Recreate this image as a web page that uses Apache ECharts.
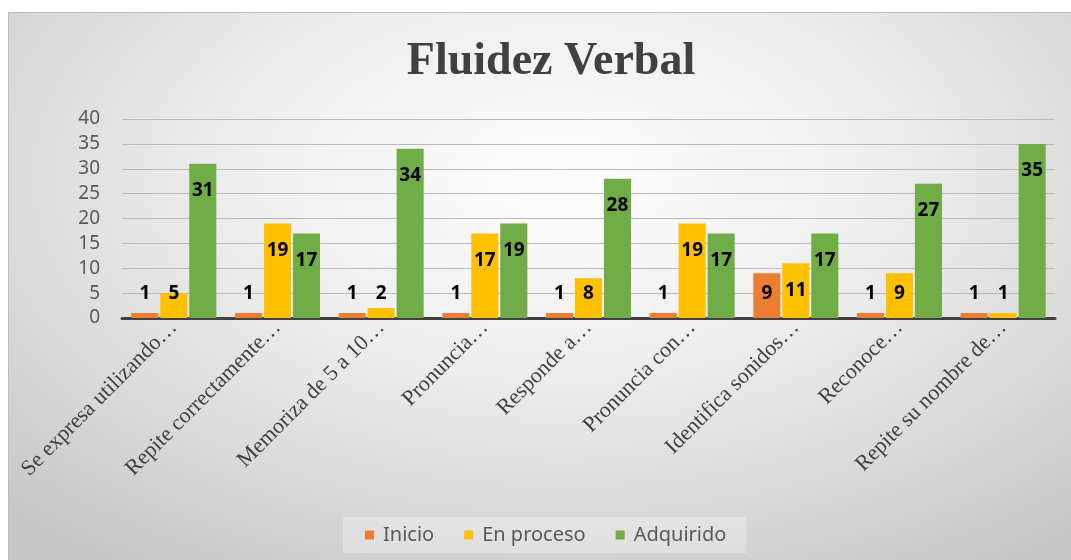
<!DOCTYPE html>
<html>
<head>
<meta charset="utf-8">
<script src="https://cdn.jsdelivr.net/npm/echarts@6/dist/echarts.min.js"></script>
<style>
html,body{margin:0;padding:0;background:#ffffff;}
#bg{position:absolute;left:8px;top:12px;width:1063px;height:548px;
background:radial-gradient(ellipse 75% 85% at 52% 30%, #fdfdfd 0%, #eeeeee 40%, #d8d8d8 75%, #c6c6c6 100%);
border-top:1px solid #bdbdbd;border-left:1px solid #bdbdbd;}
#chart{position:absolute;left:0;top:0;width:1071px;height:560px;}
</style>
</head>
<body>
<div id="bg"></div>
<div id="chart"></div>
<script>
const categories = [
  'Se expresa utilizando…',
  'Repite correctamente…',
  'Memoriza de 5 a 10…',
  'Pronuncia…',
  'Responde a…',
  'Pronuncia con…',
  'Identifica sonidos…',
  'Reconoce…',
  'Repite su nombre de…'
];
const inicio    = [1, 1, 1, 1, 1, 1, 9, 1, 1];
const enProceso = [5, 19, 2, 17, 8, 19, 11, 9, 1];
const adquirido = [31, 17, 34, 19, 28, 17, 17, 27, 35];
const yTicks = { min: 0, max: 40, interval: 5 };

const chart = echarts.init(document.getElementById('chart'), null, { renderer: 'canvas' });

const labelCfg = {
  show: true,
  position: 'inside',
  color: '#000000',
  fontFamily: 'Noto Sans',
  fontWeight: 'bold',
  fontSize: 19
};
function labelLayout(p) {
  const r = p.rect;
  return {
    x: r.x + r.width / 2,
    y: Math.min(r.y + 27, r.y + r.height - 24),
    align: 'center',
    verticalAlign: 'middle'
  };
}
function barSeries(name, data, color) {
  return {
    name: name,
    type: 'bar',
    data: data,
    barGap: '7%',
    barCategoryGap: '18%',
    itemStyle: { color: color },
    label: labelCfg,
    labelLayout: labelLayout
  };
}

chart.setOption({
  backgroundColor: 'transparent',
  animation: false,
  title: {
    text: 'Fluidez Verbal',
    left: 546,
    textAlign: 'center',
    top: 34,
    textStyle: {
      fontFamily: 'Liberation Serif',
      fontWeight: 'bold',
      fontSize: 46,
      color: '#404040'
    }
  },
  legend: {
    data: ['Inicio', 'En proceso', 'Adquirido'],
    left: 343,
    top: 517,
    padding: [8, 20, 8, 22],
    backgroundColor: 'rgba(255,255,255,0.28)',
    icon: 'rect',
    itemWidth: 9,
    itemHeight: 9,
    itemGap: 30,
    textStyle: { fontFamily: 'Noto Sans', fontSize: 20, color: '#595959', padding: [0, 0, 0, 4] }
  },
  grid: { left: 122, right: 16, top: 119, bottom: 242, containLabel: false },
  xAxis: {
    type: 'category',
    data: categories,
    axisLine: { show: true, lineStyle: { color: '#404040', width: 3 } },
    axisTick: { show: false },
    axisLabel: {
      interval: 0,
      rotate: 45,
      margin: 6,
      fontFamily: 'Liberation Serif',
      fontSize: 22,
      color: '#404040'
    }
  },
  yAxis: {
    type: 'value',
    min: yTicks.min,
    max: yTicks.max,
    interval: yTicks.interval,
    axisLine: { show: false },
    axisTick: { show: false },
    axisLabel: { margin: 22, fontFamily: 'Noto Sans', fontSize: 19, color: '#595959' },
    splitLine: { lineStyle: { color: '#bababa', width: 1 } }
  },
  series: [
    barSeries('Inicio', inicio, '#ED7D31'),
    barSeries('En proceso', enProceso, '#FFC000'),
    barSeries('Adquirido', adquirido, '#70AD47')
  ]
});
</script>
</body>
</html>
